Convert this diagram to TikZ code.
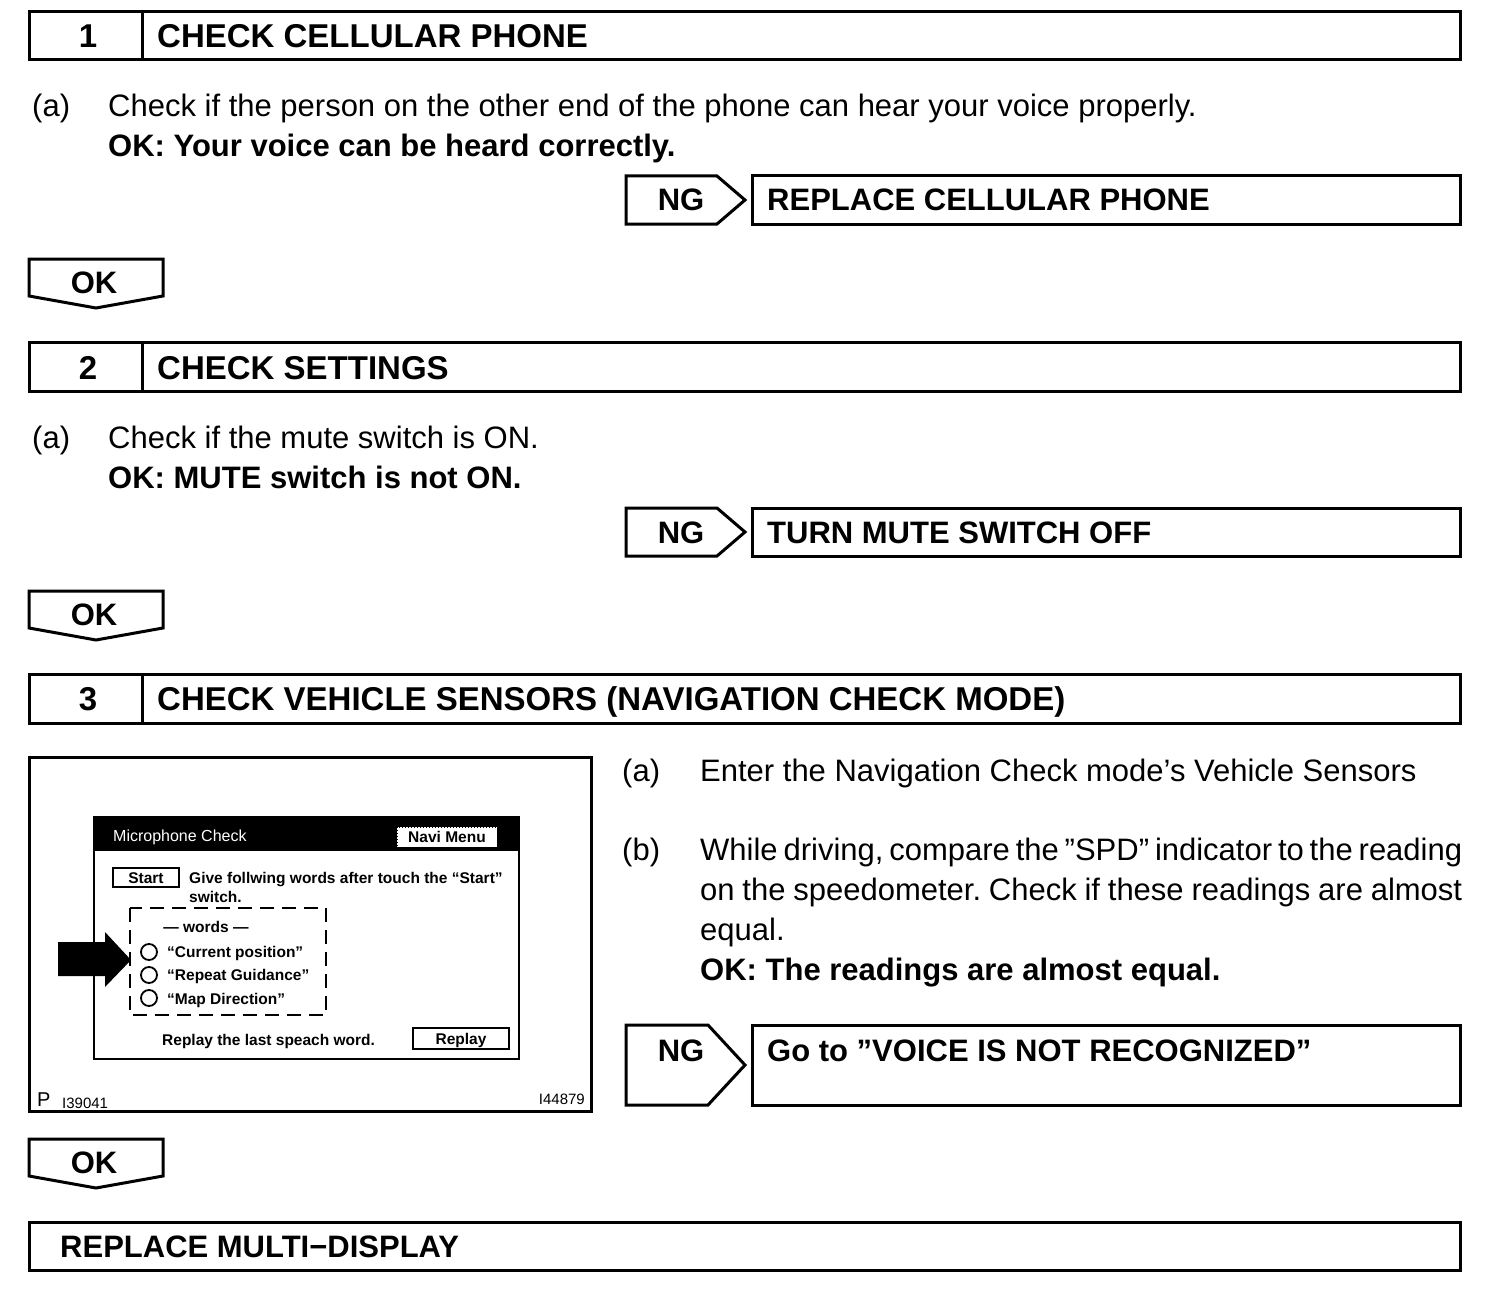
\documentclass[tikz,border=0pt]{standalone}
\usepackage{fontspec}
\setmainfont{Liberation Sans}
\frenchspacing
\begin{document}
\begin{tikzpicture}[x=1pt,y=-1pt,
  box/.style={draw, line width=3pt, line join=miter},
  hdr/.style={font=\fontsize{33}{40}\selectfont\bfseries, anchor=base west, inner sep=0pt},
  body/.style={font=\fontsize{31}{37}\selectfont, anchor=base west, inner sep=0pt},
  bodyb/.style={font=\fontsize{31}{37}\selectfont\bfseries, anchor=base west, inner sep=0pt},
  scr/.style={font=\fontsize{15.5}{18}\selectfont\bfseries, anchor=base west, inner sep=0pt},
  scrbox/.style={draw, line width=1.5pt},
  btn/.style={font=\fontsize{15.5}{18}\selectfont\bfseries, anchor=base, inner sep=0pt},
  small/.style={font=\fontsize{15}{18}\selectfont, inner sep=0pt}]
\useasboundingbox (0,0) rectangle (1504,1292);
\fill[white] (0,0) rectangle (1504,1292);

% ---------- Step 1 ----------
\draw[box] (29,12) rectangle (1460,60);
\draw[box] (142,12) -- (142,60);
\node[hdr, anchor=base] (n1) at (88,48) {1};
\node[hdr] (h1) at (157,48) {CHECK CELLULAR PHONE};
\node[body] (a1) at (32,117) {(a)};
\node[body] (t1) at (108,117) {Check if the person on the other end of the phone can hear your voice properly.};
\node[bodyb] (ok1t) at (108,157) {OK: Your voice can be heard correctly.};
\draw[box] (626,176) -- (717,176) -- (745,200) -- (717,224) -- (626,224) -- cycle;
\node[bodyb, anchor=base] (ng1) at (681,211) {NG};
\draw[box] (752,176) rectangle (1460,224);
\node[bodyb] (r1) at (767,211) {REPLACE CELLULAR PHONE};
\draw[box] (29,259) -- (163,259) -- (163,296) -- (96,308) -- (29,296) -- cycle;
\node[bodyb, anchor=base] (ok1) at (94,293) {OK};

% ---------- Step 2 ----------
\draw[box] (29,342) rectangle (1460,391);
\draw[box] (142,342) -- (142,391);
\node[hdr, anchor=base] (n2) at (88,379) {2};
\node[hdr] (h2) at (157,379) {CHECK SETTINGS};
\node[body] (a2) at (32,448) {(a)};
\node[body] (t2) at (108,448) {Check if the mute switch is ON.};
\node[bodyb] (ok2t) at (108,488) {OK: MUTE switch is not ON.};
\draw[box] (626,508) -- (717,508) -- (745,532) -- (717,556) -- (626,556) -- cycle;
\node[bodyb, anchor=base] (ng2) at (681,543) {NG};
\draw[box] (752,508) rectangle (1460,556);
\node[bodyb] (r2) at (767,543) {TURN MUTE SWITCH OFF};
\draw[box] (29,591) -- (163,591) -- (163,628) -- (96,640) -- (29,628) -- cycle;
\node[bodyb, anchor=base] (ok2) at (94,625) {OK};

% ---------- Step 3 ----------
\draw[box] (29,674) rectangle (1460,723);
\draw[box] (142,674) -- (142,723);
\node[hdr, anchor=base] (n3) at (88,710) {3};
\node[hdr] (h3) at (157,710) {CHECK VEHICLE SENSORS (NAVIGATION CHECK MODE)};

% screenshot illustration
\draw[line width=3pt] (29,757) rectangle (591,1111);
\fill[black] (94,817) rectangle (519,851);
\draw[line width=2.5pt] (94,817) rectangle (519,1059);
\draw[white, line width=1pt, dash pattern=on 1pt off 6pt] (96,851) -- (517,851);
\node[scr, text=white, font=\fontsize{16}{18}\selectfont] (mc) at (113,841) {Microphone Check};
\draw[draw=black, fill=white, line width=1pt, dotted] (397,827) rectangle (497,847);
\node[btn] (nm) at (447,842) {Navi Menu};
\draw[scrbox] (113,868) rectangle (179,887);
\node[btn] (st) at (146,883) {Start};
\node[scr] (give) at (189,883) {Give follwing words after touch the “Start”};
\node[scr] (sw) at (189,902) {switch.};
\draw[line width=2.5pt, dash pattern=on 14pt off 8pt] (130,908) rectangle (326,1015);
\node[scr, anchor=base] (wd) at (206,932) {— words —};
\draw[line width=1.8pt] (149,952) circle[radius=8pt];
\draw[line width=1.8pt] (149,975) circle[radius=8pt];
\draw[line width=1.8pt] (149,998) circle[radius=8pt];
\node[scr] (w1) at (167,957) {“Current position”};
\node[scr] (w2) at (167,980) {“Repeat Guidance”};
\node[scr] (w3) at (167,1004) {“Map Direction”};
\fill[black] (58,942) -- (105,942) -- (105,932) -- (131,960) -- (105,987) -- (105,976) -- (58,976) -- cycle;
\node[scr] (rl) at (162,1045) {Replay the last speach word.};
\draw[scrbox] (413,1028) rectangle (509,1049);
\node[btn] (rp) at (461,1044) {Replay};
\node[small, anchor=base west, font=\fontsize{20}{22}\selectfont] (pp) at (37,1106) {P};
\node[small, anchor=base west] (c1) at (62,1108) {I39041};
\node[small, anchor=base east] (c2) at (585,1104) {I44879};

% step 3 text
\node[body] (a3) at (622,781) {(a)};
\node[body] (t3a) at (700,781) {Enter the Navigation Check mode’s Vehicle Sensors};
\node[body] (b3) at (622,860) {(b)};
\node[body] (t3b1) at (700,860) {\makebox[762pt][s]{While driving, compare the ”SPD” indicator to the reading}};
\node[body] (t3b2) at (700,900) {\makebox[762pt][s]{on the speedometer. Check if these readings are almost}};
\node[body] (t3b3) at (700,940) {equal.};
\node[bodyb] (ok3t) at (700,980) {OK: The readings are almost equal.};
\draw[box] (626,1025) -- (708,1025) -- (745,1065) -- (708,1105) -- (626,1105) -- cycle;
\node[bodyb, anchor=base] (ng3) at (681,1061) {NG};
\draw[box] (752,1025) rectangle (1460,1105);
\node[bodyb] (r3) at (767,1061) {Go to ”VOICE IS NOT RECOGNIZED”};
\draw[box] (29,1139) -- (163,1139) -- (163,1176) -- (96,1188) -- (29,1176) -- cycle;
\node[bodyb, anchor=base] (ok3) at (94,1173) {OK};

% final
\draw[box] (29,1222) rectangle (1460,1270);
\node[bodyb] (fin) at (60,1257) {REPLACE MULTI−DISPLAY};
\end{tikzpicture}
\end{document}
